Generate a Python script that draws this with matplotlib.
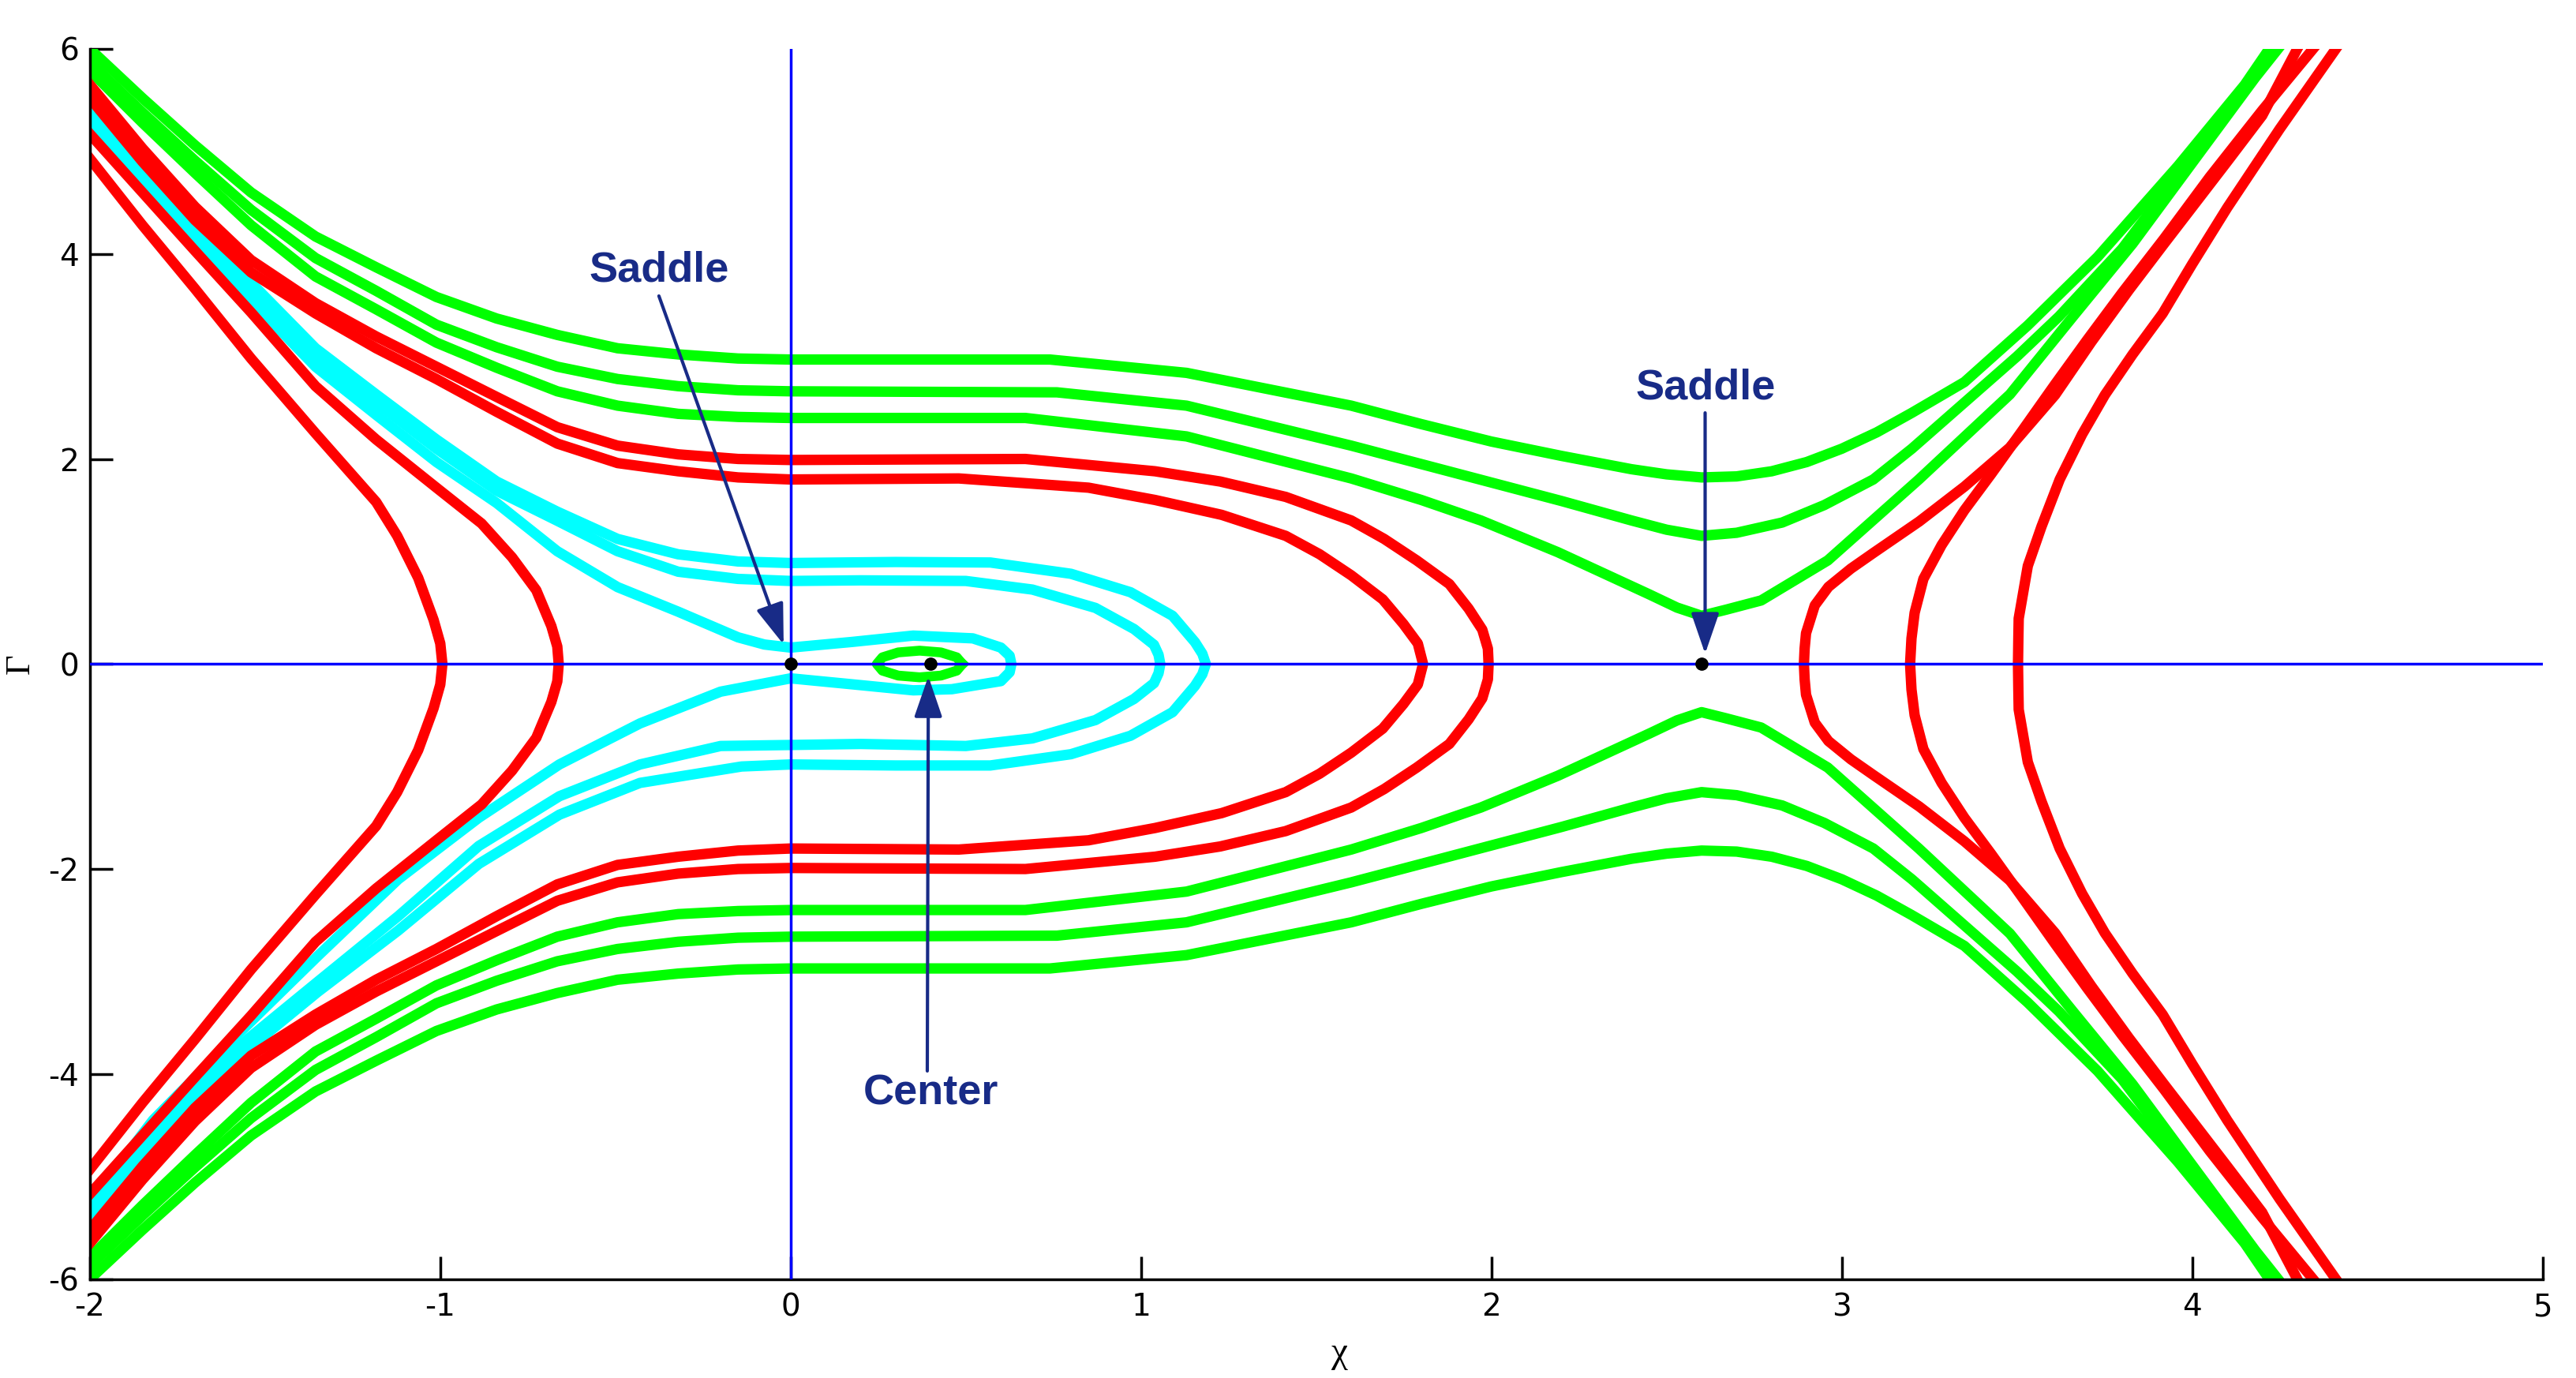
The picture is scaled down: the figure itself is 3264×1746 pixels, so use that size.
import matplotlib
matplotlib.use("Agg")
import matplotlib.pyplot as plt

# ---------- DATA ----------
# upper halves of the open green trajectories (mirrored for the lower ones)
g1_chi = [-2.0, -1.85, -1.7, -1.54, -1.356, -1.183, -1.011, -0.839, -0.666, -0.494, -0.321, -0.15, 0.0, 0.4, 0.74,
          1.13, 1.6, 1.8, 2.0, 2.2, 2.4, 2.5, 2.6, 2.7, 2.8, 2.9, 3.0, 3.1, 3.2, 3.35, 3.53, 3.73, 3.96, 4.15, 4.22]
g1_gam = [6.0, 5.52, 5.06, 4.6, 4.17, 3.87, 3.58, 3.37, 3.21, 3.08, 3.02, 2.98, 2.97, 2.97, 2.97,
          2.84, 2.52, 2.34, 2.17, 2.03, 1.9, 1.85, 1.82, 1.83, 1.88, 1.97, 2.1, 2.26, 2.45, 2.75, 3.3, 3.97, 4.86, 5.65, 6.0]
g2_chi = [-2.0, -1.85, -1.7, -1.54, -1.356, -1.183, -1.011, -0.839, -0.666, -0.494, -0.321, -0.15, 0.0, 0.76,
          1.13, 1.6, 1.8, 2.0, 2.2, 2.4, 2.5, 2.6, 2.7, 2.83, 2.95, 3.09, 3.2, 3.35, 3.5, 3.62, 3.8, 4.0, 4.17, 4.235]
g2_gam = [5.87, 5.38, 4.91, 4.43, 3.96, 3.64, 3.31, 3.09, 2.9, 2.78, 2.71, 2.67, 2.66, 2.65,
          2.52, 2.13, 1.95, 1.77, 1.59, 1.4, 1.31, 1.25, 1.28, 1.38, 1.55, 1.8, 2.1, 2.55, 3.0, 3.39, 4.05, 4.95, 5.7, 6.0]
g3_chi = [-2.0, -1.85, -1.7, -1.54, -1.356, -1.183, -1.011, -0.839, -0.666, -0.494, -0.321, -0.15, 0.0, 0.67,
          1.13, 1.6, 1.8, 1.97, 2.19, 2.45, 2.53, 2.6, 2.67, 2.77, 2.96, 3.22, 3.48, 3.66, 3.83, 4.02, 4.18, 4.245]
g3_gam = [5.79, 5.28, 4.79, 4.28, 3.78, 3.46, 3.135, 2.89, 2.66, 2.52, 2.44, 2.41, 2.4, 2.4,
          2.22, 1.81, 1.6, 1.4, 1.09, 0.68, 0.55, 0.47, 0.53, 0.62, 1.01, 1.8, 2.63, 3.39, 4.1, 4.98, 5.72, 6.0]

# red orbits turning back at chi = 2.0 and 1.8 (upper half, corner -> turning point)
rc2_chi = [-2.0, -1.85, -1.7, -1.54, -1.356, -1.183, -1.011, -0.839, -0.666, -0.494, -0.321, -0.15, 0.0, 0.67,
           1.04, 1.226, 1.413, 1.6, 1.694, 1.787, 1.88, 1.935, 1.974, 1.99, 1.992]
rc2_gam = [5.65, 5.03, 4.46, 3.94, 3.52, 3.195, 2.9, 2.605, 2.31, 2.13, 2.045, 2.0, 1.99, 2.0,
           1.88, 1.78, 1.63, 1.4, 1.22, 1.01, 0.78, 0.54, 0.335, 0.15, 0.0]
rc1_chi = [-2.0, -1.85, -1.7, -1.54, -1.356, -1.183, -1.011, -0.839, -0.666, -0.494, -0.321, -0.15, 0.0, 0.48,
           0.85, 1.04, 1.23, 1.413, 1.51, 1.6, 1.69, 1.749, 1.79, 1.805]
rc1_gam = [5.52, 4.9, 4.33, 3.82, 3.42, 3.08, 2.78, 2.46, 2.15, 1.96, 1.88, 1.82, 1.8, 1.81,
           1.72, 1.6, 1.455, 1.25, 1.07, 0.865, 0.63, 0.39, 0.2, 0.0]

# red branches left of the saddle at chi = 0
rl1_chi = [-2.0, -1.85, -1.7, -1.54, -1.356, -1.183, -1.123, -1.063, -1.019, -1.0, -0.994]
rl1_gam = [4.93, 4.28, 3.66, 2.98, 2.25, 1.58, 1.25, 0.84, 0.43, 0.2, 0.0]
rl2_chi = [-2.0, -1.85, -1.7, -1.54, -1.356, -1.183, -1.011, -0.882, -0.795, -0.726, -0.683, -0.666, -0.662]
rl2_gam = [5.17, 4.6, 4.03, 3.43, 2.71, 2.19, 1.72, 1.37, 1.04, 0.72, 0.37, 0.17, 0.0]

# red branches right of the saddle at chi = 2.6 (turning point -> top)
rr1_chi = [2.892, 2.894, 2.898, 2.923, 2.962, 3.026, 3.091, 3.221, 3.35, 3.479, 3.609, 3.712, 3.82, 3.92, 4.01, 4.1, 4.2, 4.3]
rr1_gam = [0.0, 0.15, 0.3, 0.572, 0.752, 0.93, 1.085, 1.39, 1.73, 2.11, 2.625, 3.14, 3.65, 4.1, 4.5, 4.9, 5.35, 6.0]
rr2_chi = [3.195, 3.199, 3.208, 3.233, 3.285, 3.35, 3.427, 3.518, 3.609, 3.7, 3.8, 3.92, 4.05, 4.2, 4.345]
rr2_gam = [0.0, 0.25, 0.5, 0.83, 1.16, 1.5, 1.855, 2.29, 2.73, 3.16, 3.62, 4.15, 4.75, 5.4, 6.0]
rr3_chi = [3.503, 3.504, 3.505, 3.531, 3.57, 3.622, 3.686, 3.751, 3.83, 3.916, 4.0, 4.1, 4.25, 4.41]
rr3_gam = [0.0, 0.25, 0.444, 0.957, 1.34, 1.8, 2.24, 2.625, 3.02, 3.42, 3.9, 4.45, 5.22, 6.0]

# cyan orbits (upper and lower halves read separately)
co_up_chi = [-2.0, -1.85, -1.7, -1.54, -1.356, -1.183, -1.011, -0.839, -0.666, -0.494, -0.321, -0.15, 0.0,
             0.3, 0.57, 0.8, 0.97, 1.09, 1.154, 1.175, 1.185]
co_up_gam = [5.42, 4.85, 4.3, 3.72, 3.08, 2.63, 2.19, 1.78, 1.486, 1.22, 1.07, 1.0, 0.985,
             0.995, 0.99, 0.88, 0.7, 0.47, 0.213, 0.1, 0.0]
co_lo_chi = [1.185, 1.175, 1.154, 1.09, 0.97, 0.8, 0.57, 0.3, 0.0, -0.14, -0.43, -0.66, -0.89, -1.12, -1.35, -1.6, -1.82, -2.0]
co_lo_gam = [0.0, -0.1, -0.213, -0.47, -0.7, -0.88, -0.99, -0.99, -0.98, -1.0, -1.16, -1.47, -1.95, -2.6, -3.2, -3.9, -4.64, -5.4]
ci_up_chi = [-2.0, -1.85, -1.7, -1.54, -1.356, -1.183, -1.011, -0.839, -0.666, -0.494, -0.321, -0.15, 0.0,
             0.2, 0.5, 0.69, 0.87, 0.98, 1.037, 1.05, 1.055]
ci_up_gam = [5.33, 4.77, 4.22, 3.64, 3.0, 2.55, 2.1, 1.69, 1.397, 1.1, 0.9, 0.83, 0.81,
             0.816, 0.81, 0.726, 0.547, 0.341, 0.187, 0.09, 0.0]
ci_lo_chi = [1.055, 1.05, 1.037, 0.98, 0.87, 0.69, 0.5, 0.2, -0.2, -0.43, -0.66, -0.89, -1.12, -1.35, -1.6, -1.82, -2.0]
ci_lo_gam = [0.0, -0.09, -0.187, -0.341, -0.547, -0.726, -0.8, -0.78, -0.8, -0.98, -1.29, -1.775, -2.46, -3.1, -3.8, -4.54, -5.33]
# cyan orbit passing close to the saddle and looping round the center
sep_chi = [-2.0, -1.85, -1.7, -1.54, -1.356, -1.183, -1.011, -0.839, -0.666, -0.494, -0.321, -0.15, -0.075, 0.0,
           0.175, 0.35, 0.52, 0.6, 0.625, 0.63, 0.625, 0.6, 0.46, 0.35, 0.175, 0.0,
           -0.2, -0.43, -0.66, -0.89, -1.12, -1.35, -1.58, -1.82, -2.0]
sep_gam = [5.25, 4.7, 4.15, 3.55, 2.9, 2.43, 1.97, 1.57, 1.1, 0.75, 0.51, 0.26, 0.19, 0.16,
           0.215, 0.277, 0.25, 0.16, 0.08, 0.0, -0.08, -0.167, -0.246, -0.257, -0.198, -0.14,
           -0.27, -0.58, -0.98, -1.5, -2.1, -2.85, -3.62, -4.45, -5.26]

# small green orbit around the center
ring_chi = [0.49, 0.474, 0.429, 0.368, 0.307, 0.262, 0.246, 0.262, 0.307, 0.368, 0.429, 0.474, 0.49]
ring_gam = [0.0, 0.065, 0.113, 0.13, 0.113, 0.065, 0.0, -0.065, -0.113, -0.13, -0.113, -0.065, 0.0]

# equilibrium points
fixed_chi = [0.0, 0.4, 2.6]
fixed_gam = [0.0, 0.0, 0.0]

x_ticks = [-2, -1, 0, 1, 2, 3, 4, 5]
y_ticks = [-6, -4, -2, 0, 2, 4, 6]

GREEN = "#00ff00"
RED = "#ff0000"
CYAN = "#00ffff"
NAVY = "#182b87"
LW = 9.5


def closed_from_corner(chi, gam):
    """Upper half drawn corner -> turning point, lower half is its mirror."""
    return chi + chi[::-1], gam + [-g for g in gam[::-1]]


def open_from_turn(chi, gam):
    """Half drawn turning point -> top, lower half is its mirror."""
    return chi[::-1] + chi[1:], [-g for g in gam[::-1]] + gam[1:]


fig = plt.figure(figsize=(32.64, 17.46), dpi=100)
ax = fig.add_axes([0.0349, 0.0718, 0.9521, 0.8927])

# green trajectories passing above / below everything
for cx, cg in [(g1_chi, g1_gam), (g2_chi, g2_gam), (g3_chi, g3_gam)]:
    ax.plot(cx, cg, color=GREEN, lw=LW, solid_joinstyle="round")
    ax.plot(cx, [-g for g in cg], color=GREEN, lw=LW, solid_joinstyle="round")
ax.plot(ring_chi, ring_gam, color=GREEN, lw=9, solid_joinstyle="round")

# cyan trajectories
ax.plot(co_up_chi + co_lo_chi[1:], co_up_gam + co_lo_gam[1:], color=CYAN, lw=LW, solid_joinstyle="round")
ax.plot(ci_up_chi + ci_lo_chi[1:], ci_up_gam + ci_lo_gam[1:], color=CYAN, lw=LW, solid_joinstyle="round")
ax.plot(sep_chi, sep_gam, color=CYAN, lw=LW, solid_joinstyle="round")

# red trajectories
for cx, cg in [(rc2_chi, rc2_gam), (rc1_chi, rc1_gam), (rl1_chi, rl1_gam), (rl2_chi, rl2_gam)]:
    xs, ys = closed_from_corner(cx, cg)
    ax.plot(xs, ys, color=RED, lw=LW, solid_joinstyle="round")
for cx, cg in [(rr1_chi, rr1_gam), (rr2_chi, rr2_gam), (rr3_chi, rr3_gam)]:
    xs, ys = open_from_turn(cx, cg)
    ax.plot(xs, ys, color=RED, lw=LW, solid_joinstyle="round")

# blue coordinate axes
ax.axhline(0, color="#0000ff", lw=2.5, zorder=5)
ax.axvline(0, color="#0000ff", lw=2.5, zorder=5)

# fixed points
ax.plot(fixed_chi, fixed_gam, "o", color="black", ms=11, zorder=6)

# labels with arrows
txt = dict(color=NAVY, fontsize=39, fontweight="bold", family=["Liberation Sans", "DejaVu Sans"],
           ha="center", va="center", zorder=7)
arw = dict(arrowstyle="-|>,head_length=1.6,head_width=0.55", color=NAVY, lw=3,
           mutation_scale=20, shrinkA=0, shrinkB=0)
ax.text(-0.376, 3.84, "Saddle", **txt)
ax.annotate("", xy=(-0.02, 0.19), xytext=(-0.376, 3.59), arrowprops=arw, zorder=7)
ax.text(2.612, 2.69, "Saddle", **txt)
ax.annotate("", xy=(2.61, 0.10), xytext=(2.61, 2.45), arrowprops=arw, zorder=7)
ax.text(0.40, -4.19, "Center", **txt)
ax.annotate("", xy=(0.393, -0.12), xytext=(0.39, -3.97), arrowprops=arw, zorder=7)

ax.set_xlim(-2, 5)
ax.set_ylim(-6, 6)
ax.set_xticks(x_ticks)
ax.set_yticks(y_ticks)
ax.set_xticklabels([str(v) for v in x_ticks])
ax.set_yticklabels([str(v) for v in y_ticks])
ax.tick_params(direction="in", length=21, width=2.5, labelsize=28, color="black")
ax.tick_params(axis="x", pad=12)
ax.tick_params(axis="y", pad=10)
for side in ["top", "right"]:
    ax.spines[side].set_visible(False)
for side in ["left", "bottom"]:
    ax.spines[side].set_linewidth(2.5)

ax.set_xlabel("χ", fontsize=34, family=["Liberation Serif", "DejaVu Serif"])
ax.set_ylabel("Γ", fontsize=32, family=["Liberation Serif", "DejaVu Serif"])
ax.xaxis.set_label_coords(0.5095, -0.047)
ax.yaxis.set_label_coords(-0.022, 0.5)

fig.savefig("out.png", dpi=100, facecolor="white")
plt.close(fig)
print("Chart saved as: out.png")
